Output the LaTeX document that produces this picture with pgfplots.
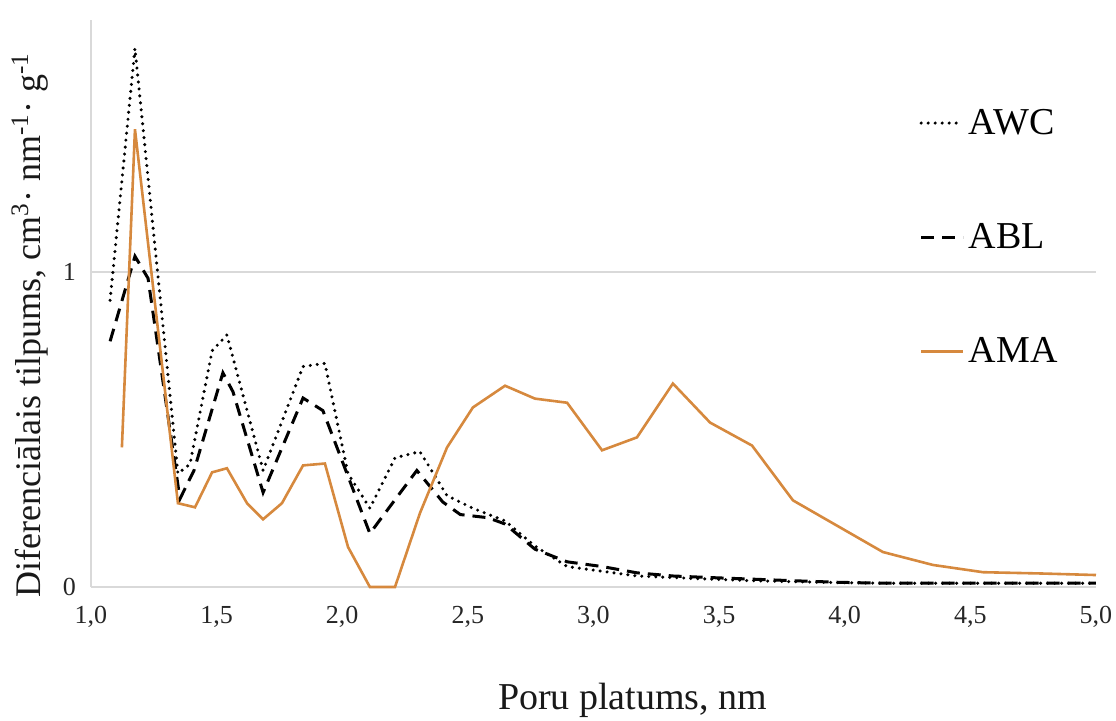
\documentclass[border=0pt]{standalone}
\usepackage{fontspec}
\setmainfont{Liberation Serif}
\usepackage{pgfplots}
\pgfplotsset{compat=1.18}
\definecolor{amaorange}{RGB}{214,137,62}
\definecolor{gridgray}{RGB}{217,217,217}

\begin{document}
\begin{tikzpicture}
\begin{axis}[
  scale only axis, width=502.5pt, height=283.5pt,
  at={(0,0)}, anchor=south west,
  xmin=1, xmax=5, ymin=0, ymax=1.8,
  axis lines*=left,
  axis line style={draw=gridgray, line width=1pt, -},
  xtick={1,1.5,2,2.5,3,3.5,4,4.5,5},
  xticklabels={{1,0},{1,5},{2,0},{2,5},{3,0},{3,5},{4,0},{4,5},{5,0}},
  ytick={0,1}, yticklabels={0,1},
  major tick length=0pt, tick style={draw=none},
  ymajorgrids, grid style={draw=gridgray, line width=1pt},
  tick label style={font=\fontsize{13}{15}\selectfont, text=black!85},
  xticklabel style={yshift=-6pt},
  yticklabel style={xshift=-4pt},
  xlabel={Poru platums, nm},
  ylabel={Diferenciālais tilpums, cm\textsuperscript{3}· nm\textsuperscript{-1}· g\textsuperscript{-1}},
  label style={text=black!90},
  xlabel style={font=\fontsize{19}{21}\selectfont, at={(axis description cs:0.539,-0.1995)}, anchor=center},
  ylabel style={font=\fontsize{18}{20}\selectfont, at={(axis description cs:-0.0607,0.462)}, anchor=center},
  legend style={draw=none, fill=none, at={(axis description cs:0.818,0.617)}, anchor=west,
    font=\fontsize{19}{21}\selectfont, row sep=39pt},
  legend cell align=left,
  legend image code/.code={\draw[#1] (0pt,0pt) -- (21pt,0pt);},
  clip=false,
]
\addplot[black, line width=1.7pt, dash pattern=on 0pt off 3.5pt, line cap=round] coordinates {
(1.076,0.91) (1.175,1.71) (1.346,0.36) (1.394,0.39) (1.482,0.75) (1.541,0.80)
(1.685,0.37) (1.844,0.70) (1.931,0.71) (2.023,0.36) (2.110,0.25) (2.210,0.41)
(2.309,0.43) (2.417,0.29) (2.520,0.25) (2.648,0.21) (2.767,0.13) (2.895,0.065)
(3.034,0.05) (3.173,0.035) (3.316,0.03) (3.464,0.025) (3.631,0.02) (3.794,0.017)
(3.973,0.014) (4.152,0.012) (4.351,0.012) (4.550,0.012) (4.777,0.012) (5.0,0.012)
};
\addlegendentry{AWC}
\addplot[black, line width=1.5pt, dash pattern=on 6.5pt off 4pt] coordinates {
(1.076,0.78) (1.175,1.05) (1.227,0.98) (1.354,0.28) (1.41,0.37) (1.525,0.68)
(1.565,0.62) (1.685,0.30) (1.844,0.60) (1.923,0.56) (2.110,0.17) (2.297,0.37)
(2.40,0.27) (2.47,0.23) (2.58,0.22) (2.648,0.20) (2.767,0.12) (2.895,0.08)
(3.034,0.065) (3.173,0.045) (3.316,0.035) (3.464,0.03) (3.631,0.025) (3.794,0.02)
(3.973,0.015) (4.152,0.012) (4.351,0.012) (4.550,0.012) (4.777,0.012) (5.0,0.012)
};
\addlegendentry{ABL}
\addplot[amaorange, line width=1.3pt] coordinates {
(1.123,0.443) (1.175,1.453) (1.346,0.266) (1.414,0.253) (1.482,0.364) (1.541,0.377)
(1.621,0.266) (1.685,0.215) (1.760,0.266) (1.844,0.386) (1.931,0.392) (2.023,0.127)
(2.110,0.0) (2.210,0.0) (2.309,0.234) (2.417,0.443) (2.520,0.570) (2.648,0.639)
(2.767,0.598) (2.895,0.585) (3.034,0.434) (3.173,0.475) (3.316,0.646) (3.464,0.522)
(3.631,0.449) (3.794,0.275) (4.152,0.111) (4.351,0.070) (4.550,0.047) (4.777,0.043)
(5.0,0.038)
};
\addlegendentry{AMA}
\end{axis}
\pgfresetboundingbox
\path[use as bounding box] (-45.5pt,-66.5pt) rectangle (512.5pt,293.5pt);
\end{tikzpicture}
\end{document}
